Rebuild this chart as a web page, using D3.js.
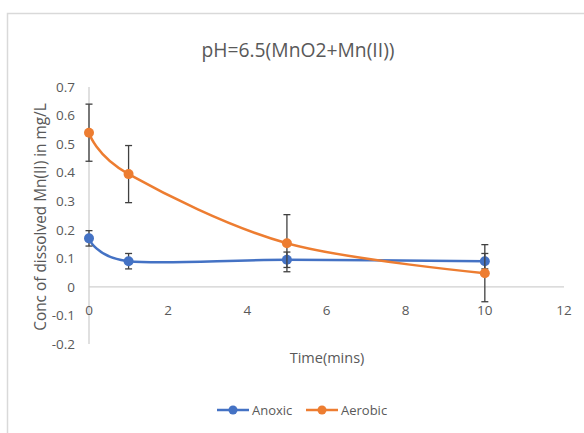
<!DOCTYPE html>
<html>
<head>
<meta charset="utf-8">
<script src="https://cdn.jsdelivr.net/npm/d3@7"></script>
<style>
  html, body { margin: 0; padding: 0; background: #fff; }
  svg { display: block; font-family: "Open Sans", "Noto Sans", sans-serif; }
</style>
</head>
<body>
<svg id="chart" width="584" height="433"></svg>
<script>
// Dissolved Mn(II) over time at pH 6.5 (MnO2 + Mn(II))
const times = [0, 1, 5, 10];
const anoxic = [0.17, 0.09, 0.095, 0.09];
const aerobic = [0.54, 0.395, 0.153, 0.048];
const anoxicErr = [0.027, 0.027, 0.027, 0.027];
const aerobicErr = [0.1, 0.1, 0.1, 0.1];
const xTicks = [0, 2, 4, 6, 8, 10, 12];
const yTicks = [-0.2, -0.1, 0, 0.1, 0.2, 0.3, 0.4, 0.5, 0.6, 0.7];
const seriesNames = ["Anoxic", "Aerobic"];
const seriesColors = ["#4472C4", "#ED7D31"];

const svg = d3.select("#chart");
const textColor = "#595959";
const axisColor = "#d0d0d0";

// chart frame
svg.append("rect")
  .attr("x", 7.5).attr("y", 13.5)
  .attr("width", 600).attr("height", 450)
  .attr("fill", "none").attr("stroke", "#d9d9d9").attr("stroke-width", 1.5);

const x = d3.scaleLinear().domain([0, 12]).range([89, 564]);
const y = d3.scaleLinear().domain([-0.2, 0.7]).range([344, 87]);

// title
svg.append("text")
  .attr("x", 298).attr("y", 57)
  .attr("text-anchor", "middle")
  .attr("font-size", 19.3)
  .attr("fill", textColor)
  .text("pH=6.5(MnO2+Mn(II))");

// axis lines
svg.append("line")
  .attr("x1", x(0)).attr("x2", x(12))
  .attr("y1", y(0)).attr("y2", y(0))
  .attr("stroke", axisColor).attr("stroke-width", 1.3);
svg.append("line")
  .attr("x1", x(0)).attr("x2", x(0))
  .attr("y1", y(0.7)).attr("y2", y(-0.2))
  .attr("stroke", axisColor).attr("stroke-width", 1.3);

// y tick labels
svg.append("g").selectAll("text")
  .data(yTicks).join("text")
  .attr("x", 75)
  .attr("y", d => y(d))
  .attr("dy", "0.35em")
  .attr("text-anchor", "end")
  .attr("font-size", 13.5)
  .attr("fill", textColor)
  .text(d => d3.format(".1f")(d).replace("0.0", "0").replace("−", "-"));

// x tick labels
svg.append("g").selectAll("text")
  .data(xTicks).join("text")
  .attr("x", d => x(d))
  .attr("y", 310)
  .attr("dy", "0.35em")
  .attr("text-anchor", "middle")
  .attr("font-size", 13.5)
  .attr("fill", textColor)
  .text(d => d);

// axis titles
svg.append("text")
  .attr("transform", "translate(41,217) rotate(-90)")
  .attr("text-anchor", "middle")
  .attr("dy", "0.35em")
  .attr("font-size", 15.4)
  .attr("fill", textColor)
  .text("Conc of dissolved Mn(II) in mg/L");

svg.append("text")
  .attr("x", 327).attr("y", 358)
  .attr("dy", "0.35em")
  .attr("text-anchor", "middle")
  .attr("font-size", 14.5)
  .attr("fill", textColor)
  .text("Time(mins)");

const series = [
  { name: seriesNames[0], color: seriesColors[0], vals: anoxic, err: anoxicErr },
  { name: seriesNames[1], color: seriesColors[1], vals: aerobic, err: aerobicErr }
];

const line = d3.line()
  .x(d => x(d.t))
  .y(d => y(d.v))
  .curve(d3.curveCatmullRom.alpha(0));

series.forEach(s => {
  const pts = times.map((t, i) => ({ t, v: s.vals[i], e: s.err[i] }));
  const g = svg.append("g");
  g.append("path")
    .datum(pts)
    .attr("d", line)
    .attr("fill", "none")
    .attr("stroke", s.color)
    .attr("stroke-width", 2.5);
  // error bars
  const eb = g.append("g").attr("stroke", "#404040").attr("stroke-width", 1.3);
  pts.forEach(p => {
    eb.append("line")
      .attr("x1", x(p.t)).attr("x2", x(p.t))
      .attr("y1", y(p.v - p.e)).attr("y2", y(p.v + p.e));
    [p.v - p.e, p.v + p.e].forEach(v => {
      eb.append("line")
        .attr("x1", x(p.t) - 3.5).attr("x2", x(p.t) + 3.5)
        .attr("y1", y(v)).attr("y2", y(v));
    });
  });
  g.selectAll("circle")
    .data(pts).join("circle")
    .attr("cx", d => x(d.t))
    .attr("cy", d => y(d.v))
    .attr("r", 5)
    .attr("fill", s.color);
});

// legend
const legendX = [217, 306];
const legend = svg.append("g");
series.forEach((s, i) => {
  const lx = legendX[i];
  legend.append("line")
    .attr("x1", lx).attr("x2", lx + 32)
    .attr("y1", 410).attr("y2", 410)
    .attr("stroke", s.color).attr("stroke-width", 2.5);
  legend.append("circle")
    .attr("cx", lx + 16).attr("cy", 410).attr("r", 4.5)
    .attr("fill", s.color);
  legend.append("text")
    .attr("x", lx + 35).attr("y", 410)
    .attr("dy", "0.35em")
    .attr("font-size", 13)
    .attr("fill", textColor)
    .text(s.name);
});
</script>
</body>
</html>
